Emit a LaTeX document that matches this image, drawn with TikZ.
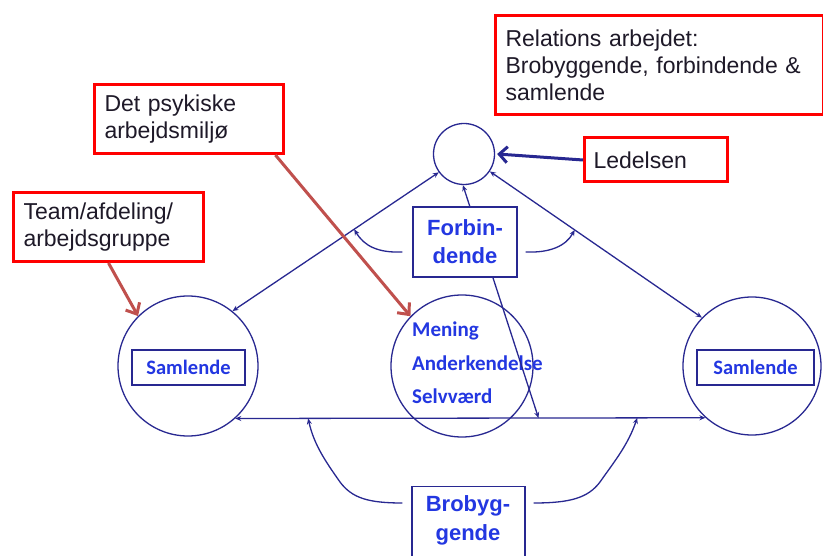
\documentclass[tikz,border=0pt]{standalone}
\usepackage{fontspec}
\setmainfont{Liberation Sans}
\newfontfamily\calfont{Carlito}
\usetikzlibrary{arrows.meta,calc}
\definecolor{navy}{RGB}{40,40,145}
\definecolor{txtblue}{RGB}{35,55,225}
\definecolor{brown}{RGB}{192,80,77}
\definecolor{redbox}{RGB}{255,0,0}
\definecolor{txtdark}{RGB}{30,25,40}
\tikzset{
  circ/.style={draw=navy, line width=1.3pt, circle, inner sep=0pt},
  note/.style={draw=redbox, line width=3pt, anchor=north west, inner xsep=10pt, align=left, text=txtdark,
     font=\fontsize{23}{27}\selectfont},
  bluebox/.style={draw=navy, line width=1.3pt, fill=white, align=center, text=txtblue,
     font=\fontsize{22}{28}\selectfont\bfseries},
  smallbox/.style={draw=navy, line width=1.3pt, minimum height=35pt, text=txtblue,
     font=\calfont\fontsize{20.5}{21}\selectfont\bfseries},
  link/.style={draw=navy, line width=1.3pt},
  tip/.style={-{Stealth[length=6pt,width=5pt]}},
  bitip/.style={{Stealth[length=6pt,width=5pt]}-{Stealth[length=6pt,width=5pt]}},
  redarrow/.style={draw=brown, line width=3pt, -{Straight Barb[length=9pt,width=16pt,line width=3pt]}},
}
\begin{document}
\begin{tikzpicture}[x=1pt,y=-1pt]
\useasboundingbox (0,0) rectangle (823,556);
\fill[white] (0,0) rectangle (823,556);

% circles
\node[circ, minimum size=61pt] (T) at (464,154) {};
\node[circ, minimum size=140pt] (L) at (188,366) {};
\node[circ, minimum size=142pt] (M) at (462,366) {};
\node[circ, minimum size=138pt] (R) at (752,366) {};

% inner boxes
\node[smallbox, minimum width=113pt] (SL) at (188.5,367.5) {Samlende};
\node[smallbox, minimum width=117pt] (SR) at (755.5,367.5) {Samlende};
\node[anchor=west, align=left, text=txtblue, font=\calfont\fontsize{21}{33.5}\selectfont\bfseries, inner sep=0pt]
  (MT) at (412,363) {Mening\\Anderkendelse\\Selvværd};

% links
\path[link, bitip] (L.-48) -- (R.-132);
\path[link, bitip] (T.216) -- (L.51);
\path[link, bitip] (T.-34) -- (R.136);
\coordinate (H) at ($(L.-48)!0.645!(R.-132)$);
\path[link, bitip] (T.-92) -- (H);

% Forbindende box
\node[bluebox, minimum width=104pt, minimum height=70pt] (F) at (465,242) {Forbin-\\dende};
\path[link, tip] ($(F.west)+(-10,10)$) .. controls (378,253) and (364,246) .. ($(T.216)!0.41!(L.51)$);
\path[link, tip] ($(F.east)+(8,10)$) .. controls (550,253) and (566,246) .. ($(T.-34)!0.40!(R.136)$);

% Brobyggende box
\node[draw=navy, line width=1.3pt, fill=white, minimum width=113pt, minimum height=90pt, anchor=north] (B) at (468.5,486) {};
\node[text=txtblue, align=center, font=\fontsize{22}{29}\selectfont\bfseries, inner sep=0pt] (BT) at (468,520) {Brobyg-\\gende};
\path[link, tip] ($(B.north west)+(-9,17)$) .. controls (368,503) and (352,498) .. (340,482) .. controls (326,462) and (314,445) .. ($(L.-48)!0.155!(R.-132)$);
\path[link, tip] ($(B.north east)+(8,17)$) .. controls (570,503) and (588,498) .. (600,482) .. controls (614,462) and (628,445) .. ($(L.-48)!0.855!(R.-132)$);

% annotation boxes
\node[note, text width=308pt, minimum height=99pt] (Rel) at (494,14) {Relations arbejdet:\\Brobyggende, forbindende \&\\samlende};
\node[note, text width=125pt, minimum height=44pt, anchor=west, inner xsep=9pt] (Ld) at (583,160) {Ledelsen};
\node[note, text width=169pt, minimum height=69pt] (P) at (93,83) {Det psykiske\\arbejdsmiljø};
\node[note, text width=170pt, minimum height=69pt] (Tm) at (12,191) {Team/afdeling/\\arbejdsgruppe};

% arrows from notes
\draw[navy, line width=3pt, -{Straight Barb[length=8pt,width=16pt,line width=3pt]}] (Ld.west) -- ($(T.east)+(2,0)$);
\draw[redarrow] ($(P.south west)!0.95!(P.south east)$) -- (M.136);
\draw[redarrow] (Tm.south) -- (L.135);
\end{tikzpicture}
\end{document}
